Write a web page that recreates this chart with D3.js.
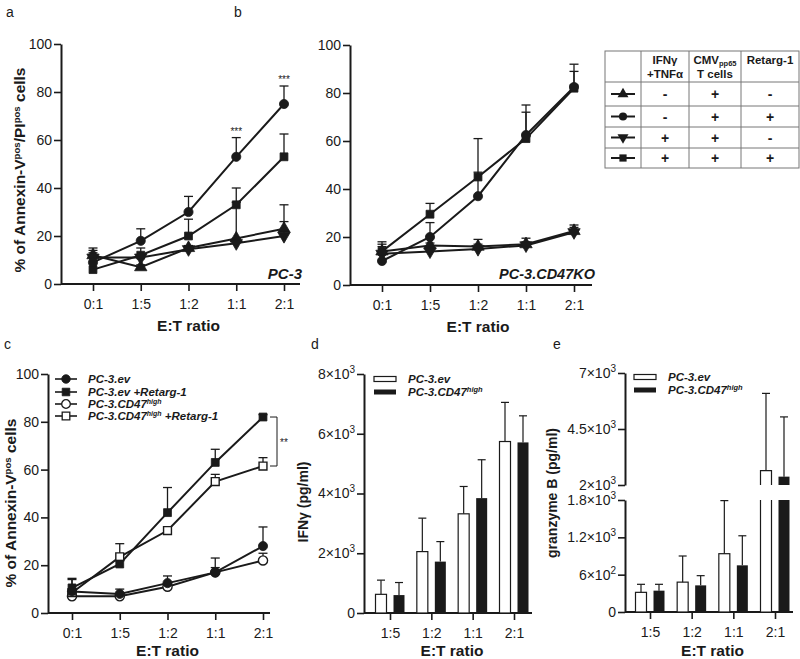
<!DOCTYPE html>
<html><head><meta charset="utf-8">
<script src="https://cdn.jsdelivr.net/npm/d3@7"></script>
<style>body{margin:0;background:#fff} svg{font-family:"Liberation Sans",Arial,sans-serif}</style>
</head><body><svg id="c" width="800" height="659"></svg>
<script>
// ---------- DATA ----------
const ratios = ["0:1","1:5","1:2","1:1","2:1"];
const barRatios = ["1:5","1:2","1:1","2:1"];
const yTicksPct = [0,20,40,60,80,100];

// panel a (PC-3)
const aCircle = [9,18,30,53,75],      aCircleSd = [4,5,6.5,8,7.5];
const aSquare = [6,12,20,33,53],      aSquareSd = [5,3,7,7,9.5];
const aTriUp  = [12,7,15,19,23],      aTriUpSd  = [3,1,1,15,10];
const aTriDn  = [11,11,14.5,17,20],   aTriDnSd  = [3,1,1.5,2,6];
const aStars  = ["","","","***","***"];

// panel b (PC-3.CD47KO)
const bCircle = [10,20,37,62.5,82.5], bCircleSd = [3,6,10,9.5,6.5];
const bSquare = [14,29.5,45,61,82],   bSquareSd = [4,4.5,16,14,10];
const bTriUp  = [14,16.5,16,17,22.5], bTriUpSd  = [3,1,3,2.5,2.5];
const bTriDn  = [13,14,15,16.5,22],   bTriDnSd  = [3,1,2,1.5,2];

// legend table
const tableRows = [
  {sym:"triUp",  v:["-","+","-"]},
  {sym:"circle", v:["-","+","+"]},
  {sym:"triDn",  v:["+","+","-"]},
  {sym:"square", v:["+","+","+"]}
];

// panel c
const cEv    = [9,8,12.5,17,28],       cEvSd    = [5.5,2,3,6,8];
const cEvR   = [10.5,20.5,42,63,82],   cEvRSd   = [3.5,1.5,10.5,5.5,1];
const cCd    = [7,7,11,17,22],         cCdSd    = [1,1,1,2,3];
const cCdR   = [8.5,23.5,34.5,55,61.5],cCdRSd   = [0.5,5.5,0.5,3,3.5];

// panel d (IFNγ pg/ml)
const dEv   = [625,2055,3320,5740], dEvSd = [475,1120,915,1310];
const dCd   = [600,1720,3845,5710], dCdSd = [420,670,1285,890];
const dTicks = [0,2000,4000,6000,8000];
const dTickLabels = [["0"],["2×10","3"],["4×10","3"],["6×10","3"],["8×10","3"]];

// panel e (granzyme B pg/ml)
const eEv   = [316,480,937,2640], eEvSd = [129,420,853,3450];
const eCd   = [343,428,750,2373], eCdSd = [102,156,475,2667];
const eTicksLow = [0,600,1200,1800];
const eTickLabelsLow = [["0"],["6×10","2"],["1.2×10","3"],["1.8×10","3"]];
const eTicksHigh = [2000,4500,7000];
const eTickLabelsHigh = [["2×10","3"],["4.5×10","3"],["7×10","3"]];

// ---------- DRAW ----------
const svg = d3.select("#c");
const INK = "#1a1a1a";
const LBL = 15.5, TICK = 14;
const triDown = {draw(ctx,size){ const h=Math.sqrt(size/(3*Math.sqrt(3))); ctx.moveTo(0,2*h); ctx.lineTo(-Math.sqrt(3)*h,-h); ctx.lineTo(Math.sqrt(3)*h,-h); ctx.closePath(); }};
const symTypes = {circle:d3.symbolCircle, square:d3.symbolSquare, triUp:d3.symbolTriangle, triDn:triDown};
const symSize = {circle:66, square:62, triUp:66, triDn:66};

function txt(g, x, y, parts, opt={}){
  const fs = opt.size||13;
  const t = g.append("text").attr("x",x).attr("y",y).attr("fill",INK)
    .attr("font-size",fs).attr("font-weight",opt.weight||"normal")
    .attr("font-style",opt.style||"normal").attr("text-anchor",opt.anchor||"start");
  if(opt.transform) t.attr("transform",opt.transform);
  let pend = 0;
  parts.forEach(p=>{
    if(typeof p === "string"){ const s=t.append("tspan").text(p); if(pend){s.attr("dy",pend); pend=0;} }
    else if(p.sup){ const d=p.dy||5; t.append("tspan").attr("font-size",p.fs||fs*0.62).attr("dy",-d+pend).text(p.sup); pend=d; }
    else if(p.sub){ t.append("tspan").attr("font-size",p.fs||fs*0.62).attr("dy",2+pend).text(p.sub); pend=-2; }
  });
  return t;
}

function styleAxis(g){
  g.selectAll(".domain").attr("stroke",INK).attr("stroke-width",2);
  g.selectAll(".tick line").attr("stroke",INK).attr("stroke-width",1.6);
  g.selectAll(".tick text").attr("fill",INK).attr("font-size",TICK).attr("font-family","Liberation Sans, Arial, sans-serif");
}

function sciLabels(g, labels){
  g.selectAll(".tick text").each(function(d,i){
    const t = d3.select(this); const l = labels[i]; t.text(null);
    t.append("tspan").text(l[0]);
    if(l[1]) t.append("tspan").attr("font-size",10).attr("dy",-6).text(l[1]);
  });
}

function linePanel(o){
  const g = svg.append("g");
  const x = d3.scalePoint().domain(ratios).range([o.xFirst,o.xLast]);
  const y = d3.scaleLinear().domain([0,100]).range([o.yBot,o.yTop]);
  const ya = g.append("g").attr("transform",`translate(${o.x0},0)`)
    .call(d3.axisLeft(y).tickValues(yTicksPct).tickSize(7).tickSizeOuter(0).tickPadding(2));
  styleAxis(ya);
  const xa = g.append("g").attr("transform",`translate(0,${o.yBot})`)
    .call(d3.axisBottom(x).tickSize(7).tickSizeOuter(0).tickPadding(8));
  xa.select(".domain").remove();
  styleAxis(xa);
  g.append("line").attr("x1",o.x0).attr("x2",o.xEnd).attr("y1",o.yBot).attr("y2",o.yBot).attr("stroke",INK).attr("stroke-width",2);
  txt(g,(o.xFirst+o.xLast)/2,Math.min(o.yBot+47,656),["E:T ratio"],{weight:"bold",anchor:"middle",size:LBL});
  o.series.forEach(s=>{
    s.v.forEach((v,i)=>{
      const cx = x(ratios[i]), y1 = y(v), y2 = y(v+s.sd[i]);
      g.append("line").attr("x1",cx).attr("x2",cx).attr("y1",y1).attr("y2",y2).attr("stroke",INK).attr("stroke-width",1.3);
      g.append("line").attr("x1",cx-4.5).attr("x2",cx+4.5).attr("y1",y2).attr("y2",y2).attr("stroke",INK).attr("stroke-width",1.3);
    });
  });
  const line = d3.line().x((d,i)=>x(ratios[i])).y(d=>y(d));
  o.series.forEach(s=>{
    g.append("path").attr("d",line(s.v)).attr("fill","none").attr("stroke",INK).attr("stroke-width",2);
  });
  o.series.forEach(s=>{
    s.v.forEach((v,i)=>{
      g.append("path").attr("d",d3.symbol().type(symTypes[s.sym]).size(symSize[s.sym])())
        .attr("transform",`translate(${x(ratios[i])},${y(v)})`)
        .attr("fill",s.open?"#fff":INK).attr("stroke",INK).attr("stroke-width",s.open?1.4:0.8);
    });
  });
  return {g,x,y};
}

// Panel a
const pa = linePanel({x0:61,xEnd:300,xFirst:93,xLast:284,yTop:44,yBot:284,series:[
  {sym:"triUp",v:aTriUp,sd:aTriUpSd},{sym:"triDn",v:aTriDn,sd:aTriDnSd},
  {sym:"square",v:aSquare,sd:aSquareSd},{sym:"circle",v:aCircle,sd:aCircleSd}]});
aStars.forEach((s,i)=>{ if(s) txt(pa.g,pa.x(ratios[i]),pa.y(aCircle[i]+aCircleSd[i])-3,[s],{size:10,anchor:"middle"}); });
txt(pa.g,302,279,["PC-3"],{weight:"bold",style:"italic",anchor:"end",size:15});
txt(svg,25,170,["% of Annexin-V",{sup:"pos",dy:5},"/PI",{sup:"pos",dy:5}," cells"],{weight:"bold",anchor:"middle",size:LBL,transform:"rotate(-90,25,170)"});
txt(svg,6,17,["a"],{size:14});

// Panel b
const pb = linePanel({x0:350,xEnd:592,xFirst:382,xLast:574,yTop:45,yBot:285,series:[
  {sym:"triUp",v:bTriUp,sd:bTriUpSd},{sym:"triDn",v:bTriDn,sd:bTriDnSd},
  {sym:"square",v:bSquare,sd:bSquareSd},{sym:"circle",v:bCircle,sd:bCircleSd}]});
txt(pb.g,595,279,["PC-3.CD47KO"],{weight:"bold",style:"italic",anchor:"end",size:14.5});
txt(svg,234,17,["b"],{size:14});

// Table legend
(function(){
  const g = svg.append("g");
  const cx = [605,641,689,741,799], ry = [51,82,106,127,148,168];
  g.append("rect").attr("x",cx[0]).attr("y",ry[0]).attr("width",cx[4]-cx[0]).attr("height",ry[5]-ry[0]).attr("fill","none").attr("stroke","#777").attr("stroke-width",1);
  cx.slice(1,4).forEach(v=>g.append("line").attr("x1",v).attr("x2",v).attr("y1",ry[0]).attr("y2",ry[5]).attr("stroke","#777"));
  ry.slice(1,5).forEach(v=>g.append("line").attr("x1",cx[0]).attr("x2",cx[4]).attr("y1",v).attr("y2",v).attr("stroke","#777"));
  const cc = [(cx[1]+cx[2])/2,(cx[2]+cx[3])/2,(cx[3]+cx[4])/2];
  const o = {size:11.5,weight:"bold",anchor:"middle"};
  txt(g,cc[0],64,["IFNγ"],o);
  txt(g,cc[0],78,["+TNFα"],o);
  txt(g,cc[1],64,["CMV",{sub:"pp65",fs:7.5}],o);
  txt(g,cc[1],78,["T cells"],o);
  txt(g,cc[2],64,["Retarg-1"],o);
  tableRows.forEach((r,i)=>{
    const yc = (ry[i+1]+ry[i+2])/2, mx = (cx[0]+cx[1])/2;
    g.append("line").attr("x1",mx-12).attr("x2",mx+12).attr("y1",yc).attr("y2",yc).attr("stroke",INK).attr("stroke-width",2);
    g.append("path").attr("d",d3.symbol().type(symTypes[r.sym]).size(52)()).attr("transform",`translate(${mx},${yc})`).attr("fill",INK);
    r.v.forEach((s,j)=>txt(g,cc[j],yc+5,[s],{size:14,weight:"bold",anchor:"middle"}));
  });
})();

// Panel c
const pc = linePanel({x0:48,xEnd:270,xFirst:72,xLast:263,yTop:374,yBot:613,series:[
  {sym:"circle",v:cCd,sd:cCdSd,open:true},{sym:"square",v:cCdR,sd:cCdRSd,open:true},
  {sym:"circle",v:cEv,sd:cEvSd},{sym:"square",v:cEvR,sd:cEvRSd}]});
txt(svg,16,503,["% of Annexin-V",{sup:"pos",dy:5}," cells"],{weight:"bold",anchor:"middle",size:LBL,transform:"rotate(-90,16,503)"});
txt(svg,4,349,["c"],{size:14});
(function(){
  const items = [{sym:"circle",open:false},{sym:"square",open:false},{sym:"circle",open:true},{sym:"square",open:true}];
  const rows = [379,392,404,416];
  items.forEach((it,i)=>{
    pc.g.append("line").attr("x1",55).attr("x2",77).attr("y1",rows[i]).attr("y2",rows[i]).attr("stroke",INK).attr("stroke-width",1.6);
    pc.g.append("path").attr("d",d3.symbol().type(symTypes[it.sym]).size(58)()).attr("transform",`translate(66,${rows[i]})`)
      .attr("fill",it.open?"#fff":INK).attr("stroke",INK).attr("stroke-width",it.open?1.3:0.8);
  });
  const o = {size:11.5,weight:"bold",style:"italic"};
  txt(pc.g,88,rows[0]+4,["PC-3.ev"],o);
  txt(pc.g,88,rows[1]+4,["PC-3.ev +Retarg-1"],o);
  txt(pc.g,88,rows[2]+4,["PC-3.CD47",{sup:"high",dy:4,fs:7}],o);
  txt(pc.g,88,rows[3]+4,["PC-3.CD47",{sup:"high",dy:4,fs:7}," +Retarg-1"],o);
  const yTop = pc.y(cEvR[4]), yBot = pc.y(cCdR[4]);
  pc.g.append("path").attr("d",`M270,${yTop}H277V${yBot}H270`).attr("fill","none").attr("stroke",INK).attr("stroke-width",1);
  txt(pc.g,284,(yTop+yBot)/2+4,["**"],{size:10,anchor:"middle"});
})();

function barLegend(g,x,y0){
  g.append("rect").attr("x",x).attr("y",y0-2.5).attr("width",22).attr("height",5).attr("fill","#fff").attr("stroke",INK).attr("stroke-width",1.2);
  g.append("rect").attr("x",x).attr("y",y0+13-2.5).attr("width",22).attr("height",5).attr("fill",INK);
  const o = {size:11.5,weight:"bold",style:"italic"};
  txt(g,x+34,y0+4,["PC-3.ev"],o);
  txt(g,x+34,y0+17,["PC-3.CD47",{sup:"high",dy:4,fs:7.5}],o);
}

function barsX(x0,xEnd,first,last,yBot){
  const g = svg.append("g");
  const x = d3.scalePoint().domain(barRatios).range([first,last]);
  const xa = g.append("g").attr("transform",`translate(0,${yBot})`).call(d3.axisBottom(x).tickSize(7).tickSizeOuter(0).tickPadding(8));
  xa.select(".domain").remove(); styleAxis(xa);
  g.append("line").attr("x1",x0).attr("x2",xEnd).attr("y1",yBot).attr("y2",yBot).attr("stroke",INK).attr("stroke-width",2);
  txt(g,(first+last)/2,656,["E:T ratio"],{weight:"bold",anchor:"middle",size:LBL});
  return {g,x};
}
function errBar(g,cx,y1,y2){
  g.append("line").attr("x1",cx).attr("x2",cx).attr("y1",y1).attr("y2",y2).attr("stroke",INK).attr("stroke-width",1.2);
  g.append("line").attr("x1",cx-4).attr("x2",cx+4).attr("y1",y2).attr("y2",y2).attr("stroke",INK).attr("stroke-width",1.2);
}

// Panel d
(function(){
  const {g,x} = barsX(364,532,390,514,613);
  const y = d3.scaleLinear().domain([0,8000]).range([613,374]);
  const ya = g.append("g").attr("transform","translate(364,0)").call(d3.axisLeft(y).tickValues(dTicks).tickSize(7).tickSizeOuter(0).tickPadding(2));
  styleAxis(ya); sciLabels(ya,dTickLabels);
  const bw = 11, off = 3.5;
  barRatios.forEach((r,i)=>{
    const cx = x(r);
    errBar(g,cx-off-bw/2,y(dEv[i]),y(dEv[i]+dEvSd[i]));
    errBar(g,cx+off+bw/2,y(dCd[i]),y(dCd[i]+dCdSd[i]));
    g.append("rect").attr("x",cx-off-bw).attr("y",y(dEv[i])).attr("width",bw).attr("height",613-y(dEv[i])).attr("fill","#fff").attr("stroke",INK).attr("stroke-width",1.2);
    g.append("rect").attr("x",cx+off).attr("y",y(dCd[i])).attr("width",bw).attr("height",613-y(dCd[i])).attr("fill",INK);
  });
  barLegend(g,374,379);
  txt(svg,308,502,["IFNγ (pg/ml)"],{weight:"bold",anchor:"middle",size:14,transform:"rotate(-90,308,502)"});
  txt(svg,311,349,["d"],{size:14});
})();

// Panel e (broken axis)
(function(){
  const {g,x} = barsX(625,793,650,775,612);
  const yL = d3.scaleLinear().domain([0,1800]).range([612,500]);
  const yU = d3.scaleLinear().domain([2000,7000]).range([485,373]);
  const aL = g.append("g").attr("transform","translate(625,0)").call(d3.axisLeft(yL).tickValues(eTicksLow).tickSize(7).tickSizeOuter(0).tickPadding(2));
  styleAxis(aL); sciLabels(aL,eTickLabelsLow);
  const aU = g.append("g").attr("transform","translate(625,0)").call(d3.axisLeft(yU).tickValues(eTicksHigh).tickSize(7).tickSizeOuter(0).tickPadding(2));
  styleAxis(aU); sciLabels(aU,eTickLabelsHigh);
  const bw = 11, off = 3.5, brk = 1800;
  function bar(cx,v,sd,white){
    const x0 = cx, x1 = cx+bw;
    const fill = white?"#fff":INK;
    if(v<=brk){
      g.append("rect").attr("x",x0).attr("y",yL(v)).attr("width",bw).attr("height",612-yL(v)).attr("fill",fill).attr("stroke",white?INK:"none").attr("stroke-width",1.2);
      errBar(g,cx+bw/2,yL(v),yL(v+sd));
    } else {
      g.append("rect").attr("x",x0).attr("y",yL(brk)).attr("width",bw).attr("height",612-yL(brk)).attr("fill",fill);
      g.append("rect").attr("x",x0).attr("y",yU(v)).attr("width",bw).attr("height",yU(2000)-yU(v)).attr("fill",fill);
      if(white){
        g.append("path").attr("d",`M${x0},${yL(brk)}V612H${x1}V${yL(brk)}`).attr("fill","none").attr("stroke",INK).attr("stroke-width",1.2);
        g.append("path").attr("d",`M${x0},${yU(2000)}V${yU(v)}H${x1}V${yU(2000)}`).attr("fill","none").attr("stroke",INK).attr("stroke-width",1.2);
      }
      errBar(g,cx+bw/2,yU(v),yU(v+sd));
    }
  }
  barRatios.forEach((r,i)=>{
    const cx = x(r);
    bar(cx-off-bw,eEv[i],eEvSd[i],true);
    bar(cx+off,eCd[i],eCdSd[i],false);
  });
  barLegend(g,634,377);
  txt(svg,557,493,["granzyme B (pg/ml)"],{weight:"bold",anchor:"middle",size:14,transform:"rotate(-90,557,493)"});
  txt(svg,553,349,["e"],{size:14});
})();
</script></body></html>
